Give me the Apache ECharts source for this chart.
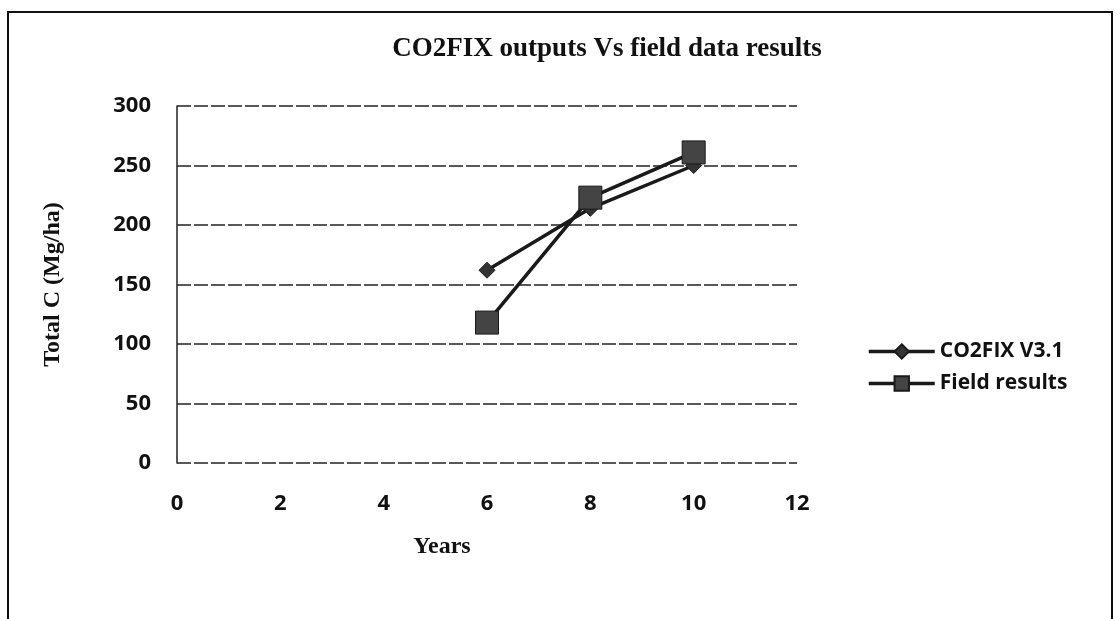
<!DOCTYPE html>
<html><head><meta charset="utf-8">
<script src="https://cdn.jsdelivr.net/npm/echarts@6/dist/echarts.min.js"></script>
<style>html,body{margin:0;padding:0;background:#fff}#c{width:1120px;height:619px}</style>
</head><body><div id="c"></div>
<script>
const years = [6, 8, 10];
const co2fix = [162, 214, 250];
const field = [118, 223, 261];
const seriesNames = ['CO2FIX V3.1', 'Field results'];
const titleText = 'CO2FIX outputs Vs field data results';

const chart = echarts.init(document.getElementById('c'));
const tickFont = {fontFamily: 'Open Sans', fontWeight: 'bold', fontSize: 22, color: '#111'};
chart.setOption({
  animation: false,
  graphic: [{type: 'rect', shape: {x: 8, y: 12, width: 1104, height: 640}, style: {fill: 'none', stroke: '#111', lineWidth: 2}, z: -1}],
  title: {text: titleText, left: 602, textAlign: 'center', top: 31,
    textStyle: {fontFamily: 'Liberation Serif', fontWeight: 'bold', fontSize: 27, color: '#111'}},
  legend: {orient: 'vertical', left: 862, top: 336, itemGap: 11, itemWidth: 66, itemHeight: 18,
    lineStyle: {width: 3.5},
    textStyle: {fontFamily: 'Open Sans', fontWeight: 'bold', fontSize: 21, color: '#111'},
    data: seriesNames},
  grid: {left: 177, right: 323, top: 106, bottom: 156},
  xAxis: {type: 'value', min: 0, max: 12, interval: 2,
    name: 'Years', nameLocation: 'middle', nameGap: 72,
    nameTextStyle: {fontFamily: 'Liberation Serif', fontWeight: 'bold', fontSize: 24, color: '#111', padding: [0, 90, 0, 0]},
    axisLine: {show: false}, axisTick: {show: false}, splitLine: {show: false},
    axisLabel: Object.assign({margin: 30}, tickFont)},
  yAxis: {type: 'value', min: 0, max: 300, interval: 50,
    name: 'Total C (Mg/ha)', nameLocation: 'middle', nameGap: 112,
    nameTextStyle: {fontFamily: 'Liberation Serif', fontWeight: 'bold', fontSize: 24, color: '#111'},
    axisLine: {show: true, lineStyle: {color: '#222', width: 1.5}}, axisTick: {show: false},
    splitLine: {show: true, lineStyle: {color: '#222', width: 1.5, type: [14, 3]}},
    axisLabel: Object.assign({margin: 26}, tickFont)},
  series: [
    {name: seriesNames[0], type: 'line', data: years.map((x, i) => [x, co2fix[i]]),
      symbol: 'diamond', symbolSize: 16,
      lineStyle: {color: '#1a1a1a', width: 3.5}, itemStyle: {color: '#333', borderColor: '#1a1a1a', borderWidth: 1}},
    {name: seriesNames[1], type: 'line', data: years.map((x, i) => [x, field[i]]),
      symbol: 'rect', symbolSize: 23,
      lineStyle: {color: '#1a1a1a', width: 3.5}, itemStyle: {color: '#444', borderColor: '#1a1a1a', borderWidth: 1}}
  ]
});
</script></body></html>
